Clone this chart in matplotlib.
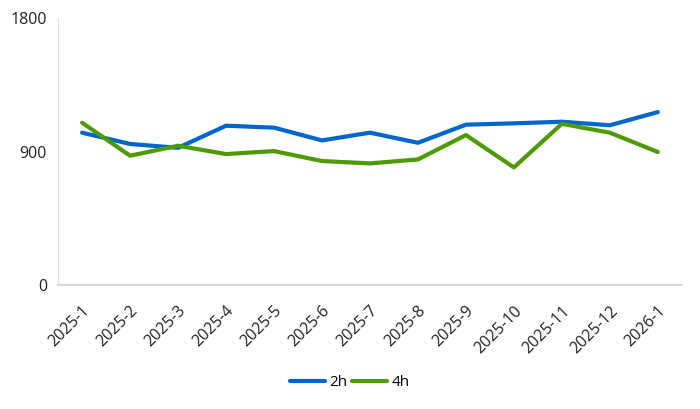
import matplotlib
matplotlib.use('Agg')
import matplotlib.pyplot as plt

# data
months = ['2025-1', '2025-2', '2025-3', '2025-4', '2025-5', '2025-6', '2025-7',
          '2025-8', '2025-9', '2025-10', '2025-11', '2025-12', '2026-1']
h2 = [1027, 951, 925, 1074, 1061, 975, 1027, 959, 1081, 1090, 1101, 1077, 1166]
h4 = [1094, 872, 939, 883, 903, 836, 820, 847, 1011, 793, 1087, 1027, 897]

plt.rcParams['font.family'] = ['Open Sans', 'DejaVu Sans']

fig = plt.figure(figsize=(7, 4.09), dpi=100)
ax = fig.add_axes([0.083, 0.303, 0.891, 0.653])

x = range(len(months))
ax.plot(x, h2, color='#0066CC', lw=3, label='2h', solid_capstyle='round')
ax.plot(x, h4, color='#4E9A06', lw=3, label='4h', solid_capstyle='round')

ax.set_xlim(-0.5, len(months) - 0.5)
ax.set_ylim(0, 1800)
ax.set_yticks([0, 900, 1800])
ax.set_xticks(list(x))
ax.set_xticklabels(months, rotation=45, ha='right', rotation_mode='anchor')
ax.tick_params(axis='both', length=0, labelsize=11.5, colors='#222222')
ax.tick_params(axis='x', pad=13)
ax.tick_params(axis='y', pad=8)

for s in ['top', 'right']:
    ax.spines[s].set_visible(False)
ax.spines['left'].set_color('#e0e0e0')
ax.spines['bottom'].set_color('#d9d9d9')
ax.spines['bottom'].set_linewidth(1.5)

fig.legend(loc='center', bbox_to_anchor=(0.5, 0.064), ncol=2, frameon=False,
           fontsize=11, handlelength=2.3, handletextpad=0.3, columnspacing=0.3)

fig.savefig('out.png', dpi=100)
